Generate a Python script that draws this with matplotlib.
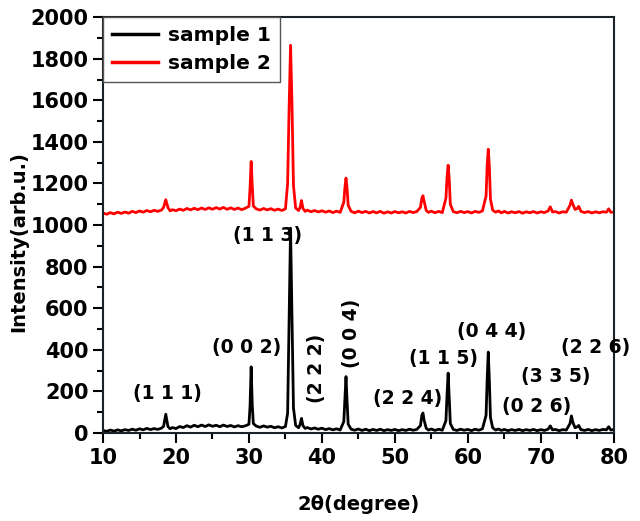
import matplotlib
matplotlib.use("Agg")
import matplotlib.pyplot as plt
from matplotlib.ticker import MultipleLocator

plt.rcParams['font.family'] = ['DejaVu Sans']
plt.rcParams['font.weight'] = 'bold'

# 2theta grid (degree)
two_theta = [10.0, 10.5, 11.0, 11.5, 12.0, 12.5, 13.0, 13.5, 14.0, 14.5,
             15.0, 15.5, 16.0, 16.5, 17.0, 17.5, 18.0, 18.3, 18.6, 18.9,
             19.2, 19.5, 20.0, 20.5, 21.0, 21.5, 22.0, 22.5, 23.0, 23.5,
             24.0, 24.5, 25.0, 25.5, 26.0, 26.5, 27.0, 27.5, 28.0, 28.5,
             29.0, 29.5, 30.0, 30.15, 30.3, 30.45, 30.6, 31.0, 31.5, 32.0,
             32.5, 33.0, 33.5, 34.0, 34.5, 35.0, 35.3, 35.5, 35.7, 35.9,
             36.1, 36.4, 36.8, 37.0, 37.2, 37.4, 37.7, 38.0, 38.5, 39.0,
             39.5, 40.0, 40.5, 41.0, 41.5, 42.0, 42.5, 43.0, 43.15, 43.3,
             43.45, 43.6, 44.0, 44.5, 45.0, 45.5, 46.0, 46.5, 47.0, 47.5,
             48.0, 48.5, 49.0, 49.5, 50.0, 50.5, 51.0, 51.5, 52.0, 52.5,
             53.0, 53.5, 53.7, 53.85, 54.0, 54.3, 54.6, 55.0, 55.5, 56.0,
             56.5, 57.0, 57.15, 57.3, 57.45, 57.6, 58.0, 58.5, 59.0, 59.5,
             60.0, 60.5, 61.0, 61.5, 62.0, 62.5, 62.65, 62.8, 62.95, 63.1,
             63.4, 63.8, 64.2, 64.6, 65.0, 65.5, 66.0, 66.5, 67.0, 67.5,
             68.0, 68.5, 69.0, 69.5, 70.0, 70.5, 71.0, 71.3, 71.6, 72.0,
             72.5, 73.0, 73.5, 74.0, 74.2, 74.4, 74.7, 75.0, 75.2, 75.5,
             76.0, 76.5, 77.0, 77.5, 78.0, 78.5, 79.0, 79.3, 79.6, 80.0]

sample1 = [12, 8, 14, 9, 15, 10, 16, 12, 18, 13,
           20, 15, 22, 16, 21, 17, 23, 32, 90, 30,
           20, 26, 21, 31, 26, 35, 28, 37, 30, 38,
           31, 39, 32, 37, 30, 38, 31, 36, 29, 35,
           30, 34, 42, 130, 318, 135, 45, 33, 27, 34,
           28, 32, 25, 30, 24, 31, 95, 530, 985, 560,
           120, 36, 25, 40, 70, 35, 22, 26, 19, 24,
           18, 23, 16, 21, 15, 20, 14, 55, 160, 271,
           150, 42, 18, 13, 19, 12, 18, 11, 17, 12,
           18, 11, 16, 12, 17, 11, 16, 12, 18, 13,
           17, 35, 85, 96, 62, 22, 14, 19, 12, 18,
           13, 60, 185, 288, 170, 45, 17, 12, 18, 13,
           17, 11, 18, 13, 20, 85, 260, 389, 250, 75,
           25, 14, 19, 12, 17, 11, 16, 12, 17, 11,
           16, 12, 17, 11, 16, 12, 18, 34, 15, 17,
           11, 16, 14, 45, 82, 50, 25, 30, 36, 16,
           12, 17, 11, 16, 12, 17, 15, 30, 14, 16]

sample2 = [1058, 1052, 1060, 1054, 1062, 1056, 1063, 1057, 1066, 1060,
           1068, 1062, 1070, 1064, 1071, 1066, 1072, 1085, 1122, 1084,
           1068, 1074, 1069, 1077, 1071, 1080, 1073, 1081, 1074, 1082,
           1075, 1083, 1076, 1084, 1077, 1085, 1076, 1083, 1075, 1082,
           1074, 1081, 1090, 1180, 1306, 1190, 1092, 1078, 1072, 1080,
           1073, 1079, 1071, 1077, 1070, 1078, 1200, 1560, 1865, 1580,
           1190, 1082, 1070, 1085, 1118, 1080, 1066, 1072, 1064, 1070,
           1063, 1069, 1062, 1068, 1060, 1067, 1061, 1110, 1180, 1226,
           1175, 1095, 1066, 1059, 1067, 1060, 1066, 1058, 1065, 1059,
           1066, 1057, 1064, 1058, 1065, 1059, 1064, 1058, 1066, 1060,
           1065, 1085, 1130, 1141, 1115, 1070, 1061, 1067, 1059, 1066,
           1060, 1130, 1230, 1288, 1220, 1100, 1065, 1059, 1066, 1060,
           1065, 1058, 1066, 1061, 1068, 1140, 1290, 1365, 1280, 1125,
           1072, 1062, 1068, 1059, 1066, 1058, 1064, 1059, 1065, 1057,
           1064, 1059, 1065, 1058, 1064, 1060, 1068, 1088, 1063, 1065,
           1058, 1064, 1062, 1095, 1120, 1100, 1075, 1080, 1090, 1066,
           1060, 1065, 1058, 1064, 1059, 1064, 1062, 1078, 1061, 1063]

# peak labels: text, x, y, rotation
hkl_labels = ["(1 1 1)", "(0 0 2)", "(1 1 3)", "(2 2 2)", "(0 0 4)",
              "(2 2 4)", "(1 1 5)", "(0 4 4)", "(0 2 6)", "(3 3 5)", "(2 2 6)"]
hkl_x = [18.8, 29.7, 32.6, 39.3, 44.1, 51.7, 56.6, 63.2, 69.4, 72.1, 77.5]
hkl_y = [192, 409, 952, 312, 480, 168, 360, 490, 125, 270, 413]
hkl_rot = [0, 0, 0, 90, 90, 0, 0, 0, 0, 0, 0]

fig = plt.figure(figsize=(6.4, 5.21), dpi=100)
ax = fig.add_axes([0.161, 0.169, 0.798, 0.798])

ax.plot(two_theta, sample1, c="black", lw=2.0, label="sample 1")
ax.plot(two_theta, sample2, c="red", lw=2.0, label="sample 2")

for t, x, y, r in zip(hkl_labels, hkl_x, hkl_y, hkl_rot):
    ax.text(x, y, t, ha="center", va="center", rotation=r,
            fontsize=13.5, fontweight="bold")

ax.set_xlim(10, 80)
ax.set_ylim(0, 2000)
ax.xaxis.set_major_locator(MultipleLocator(10))
ax.xaxis.set_minor_locator(MultipleLocator(5))
ax.yaxis.set_major_locator(MultipleLocator(200))
ax.yaxis.set_minor_locator(MultipleLocator(100))
ax.tick_params(which="both", direction="out", width=1.5, labelsize=15)
ax.tick_params(which="major", length=7)
ax.tick_params(which="minor", length=4)
for s in ax.spines.values():
    s.set_linewidth(1.5)
    s.set_color("#1a2428")

ax.set_xlabel("2θ(degree)", fontsize=14, fontweight="bold")
ax.set_ylabel("Intensity(arb.u.)", fontsize=14, fontweight="bold")
ax.xaxis.set_label_coords(0.5, -0.149)
ax.yaxis.set_label_coords(-0.147, 0.4615)

leg = ax.legend(loc="upper left", fontsize=14.5, fancybox=False,
                borderaxespad=0, handlelength=2.3, handletextpad=0.5,
                borderpad=0.45, labelspacing=0.45)
leg.get_frame().set_edgecolor("#555555")
leg.get_frame().set_linewidth(1.0)
leg.get_frame().set_alpha(1)
for line in leg.get_lines():
    line.set_linewidth(2.5)

fig.savefig("out.png", dpi=100)
